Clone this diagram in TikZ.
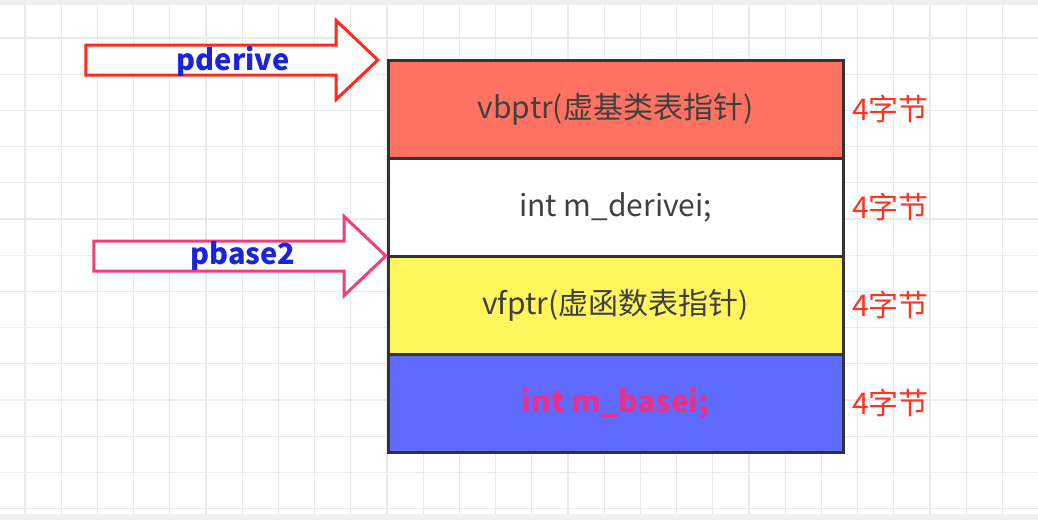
\documentclass[tikz,border=0pt]{standalone}
\usepackage{fontspec}
\setmainfont{Noto Sans CJK SC}
\usetikzlibrary{positioning,shapes.arrows}
\definecolor{gridgray}{HTML}{E8EAEC}
\definecolor{vbred}{HTML}{FF7262}
\definecolor{vfyellow}{HTML}{FFF55C}
\definecolor{mbblue}{HTML}{5F6BFF}
\definecolor{txtgray}{HTML}{404040}
\definecolor{sizered}{HTML}{FF3322}
\definecolor{ptrblue}{HTML}{1A24DD}
\definecolor{pdred}{HTML}{FF2A1A}
\definecolor{pbpink}{HTML}{EE3F80}
\definecolor{mbpink}{HTML}{E8308A}
\tikzset{
  memcell/.style={draw=black!80, line width=3pt, outer sep=0pt, inner sep=0pt,
    minimum width=455pt, minimum height=98pt, text=txtgray,
    font=\fontsize{30}{35}\selectfont},
  sizelabel/.style={inner sep=0pt, text=sizered, font=\fontsize{30}{35}\selectfont},
  ptrarrow/.style={single arrow, draw=#1, fill=white, line width=3pt,
    inner sep=13.5pt, minimum height=292pt, single arrow head extend=24.5pt,
    single arrow tip angle=87, single arrow head indent=0pt},
  ptrlabel/.style={inner sep=0pt, text=ptrblue, font=\fontsize{29}{34}\selectfont\bfseries}
}
\begin{document}
\begin{tikzpicture}[x=1pt,y=-1pt]
\useasboundingbox (0,0) rectangle (1038,520);
% grid
\foreach \k in {0,...,28}
  \draw [gridgray, line width=1.2pt] (25+36.2*\k,0) -- (25+36.2*\k,520);
\foreach \k in {0,...,14}
  \draw [gridgray, line width=1.2pt] (0,1.8+36.2*\k) -- (1038,1.8+36.2*\k);
\fill [gridgray!70] (0,0) rectangle (1038,5);
\fill [gridgray!70] (0,514) rectangle (1038,520);
% memory layout
\node [memcell, fill=vbred] (vb) at (615.5,109) {vbptr(虚基类表指针)};
\node [memcell, fill=white, below=0pt of vb] (md) {int m\_derivei;};
\node [memcell, fill=vfyellow, below=0pt of md] (vf) {vfptr(虚函数表指针)};
\node [memcell, fill=mbblue, below=0pt of vf, text=mbpink, font=\fontsize{30}{35}\selectfont\bfseries] (mb) {int m\_basei;};
\foreach \c in {vb,md,vf,mb}
  \node [sizelabel, right=9pt of \c] (\c-size) {4字节};
% pointers
\node [ptrarrow=pdred, anchor=tip] (pd) at ([xshift=-8pt]vb.north west) {};
\node [ptrlabel] (pd-label) at (233,61) {pderive};
\node [ptrarrow=pbpink, anchor=tip] (pb) at (vf.north west) {};
\node [ptrlabel] (pb-label) at (243,256) {pbase2};
\end{tikzpicture}
\end{document}
